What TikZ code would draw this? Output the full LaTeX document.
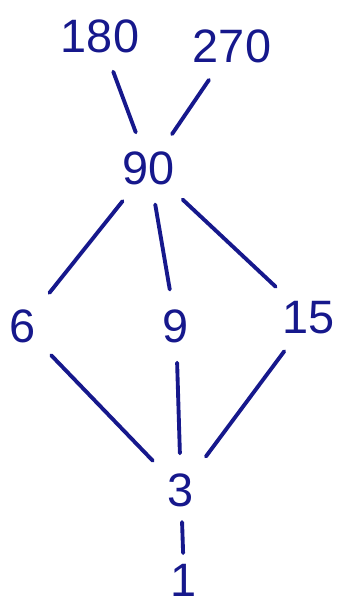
\documentclass[tikz,border=0pt]{standalone}
\usepackage{fontspec}
\setmainfont{Liberation Sans}
\usepackage{tikz}
\usetikzlibrary{positioning}
\definecolor{ink}{RGB}{22,24,140}
\tikzset{
  numnode/.style = {inner sep=3pt, text=ink, font=\fontsize{40}{44}\selectfont},
  edge/.style    = {-, line width=3.3pt, ink, line cap=round,
                    shorten <=14pt, shorten >=14pt},
}

\begin{document}
\begin{tikzpicture}[x=0.03cm, y=-0.03cm]
    \useasboundingbox (0,0) rectangle (338,608);

    \node[numnode] (n180) at (100,36)  {180};
    \node[numnode] (n270) at (232,46)  {270};
    \node[numnode] (n90)  at (149,168) {90};
    \node[numnode] (n6)   at (23,326)  {6};
    \node[numnode] (n9)   at (176,326) {9};
    \node[numnode] (n15)  at (309,318) {15};
    \node[numnode] (n3)   at (181,490) {3};
    \node[numnode] (n1)   at (184,580) {1};

    \draw[edge] (n180) -- (n90);
    \draw[edge] (n270) -- (n90);
    \draw[edge] (n90)  -- (n6);
    \draw[edge] (n90)  -- (n9);
    \draw[edge] (n90)  -- (n15);
    \draw[edge] (n6)   -- (n3);
    \draw[edge] (n9)   -- (n3);
    \draw[edge] (n15)  -- (n3);
    \draw[edge, shorten <=10pt, shorten >=6pt] (n3) -- (n1);
  \end{tikzpicture}
\end{document}
